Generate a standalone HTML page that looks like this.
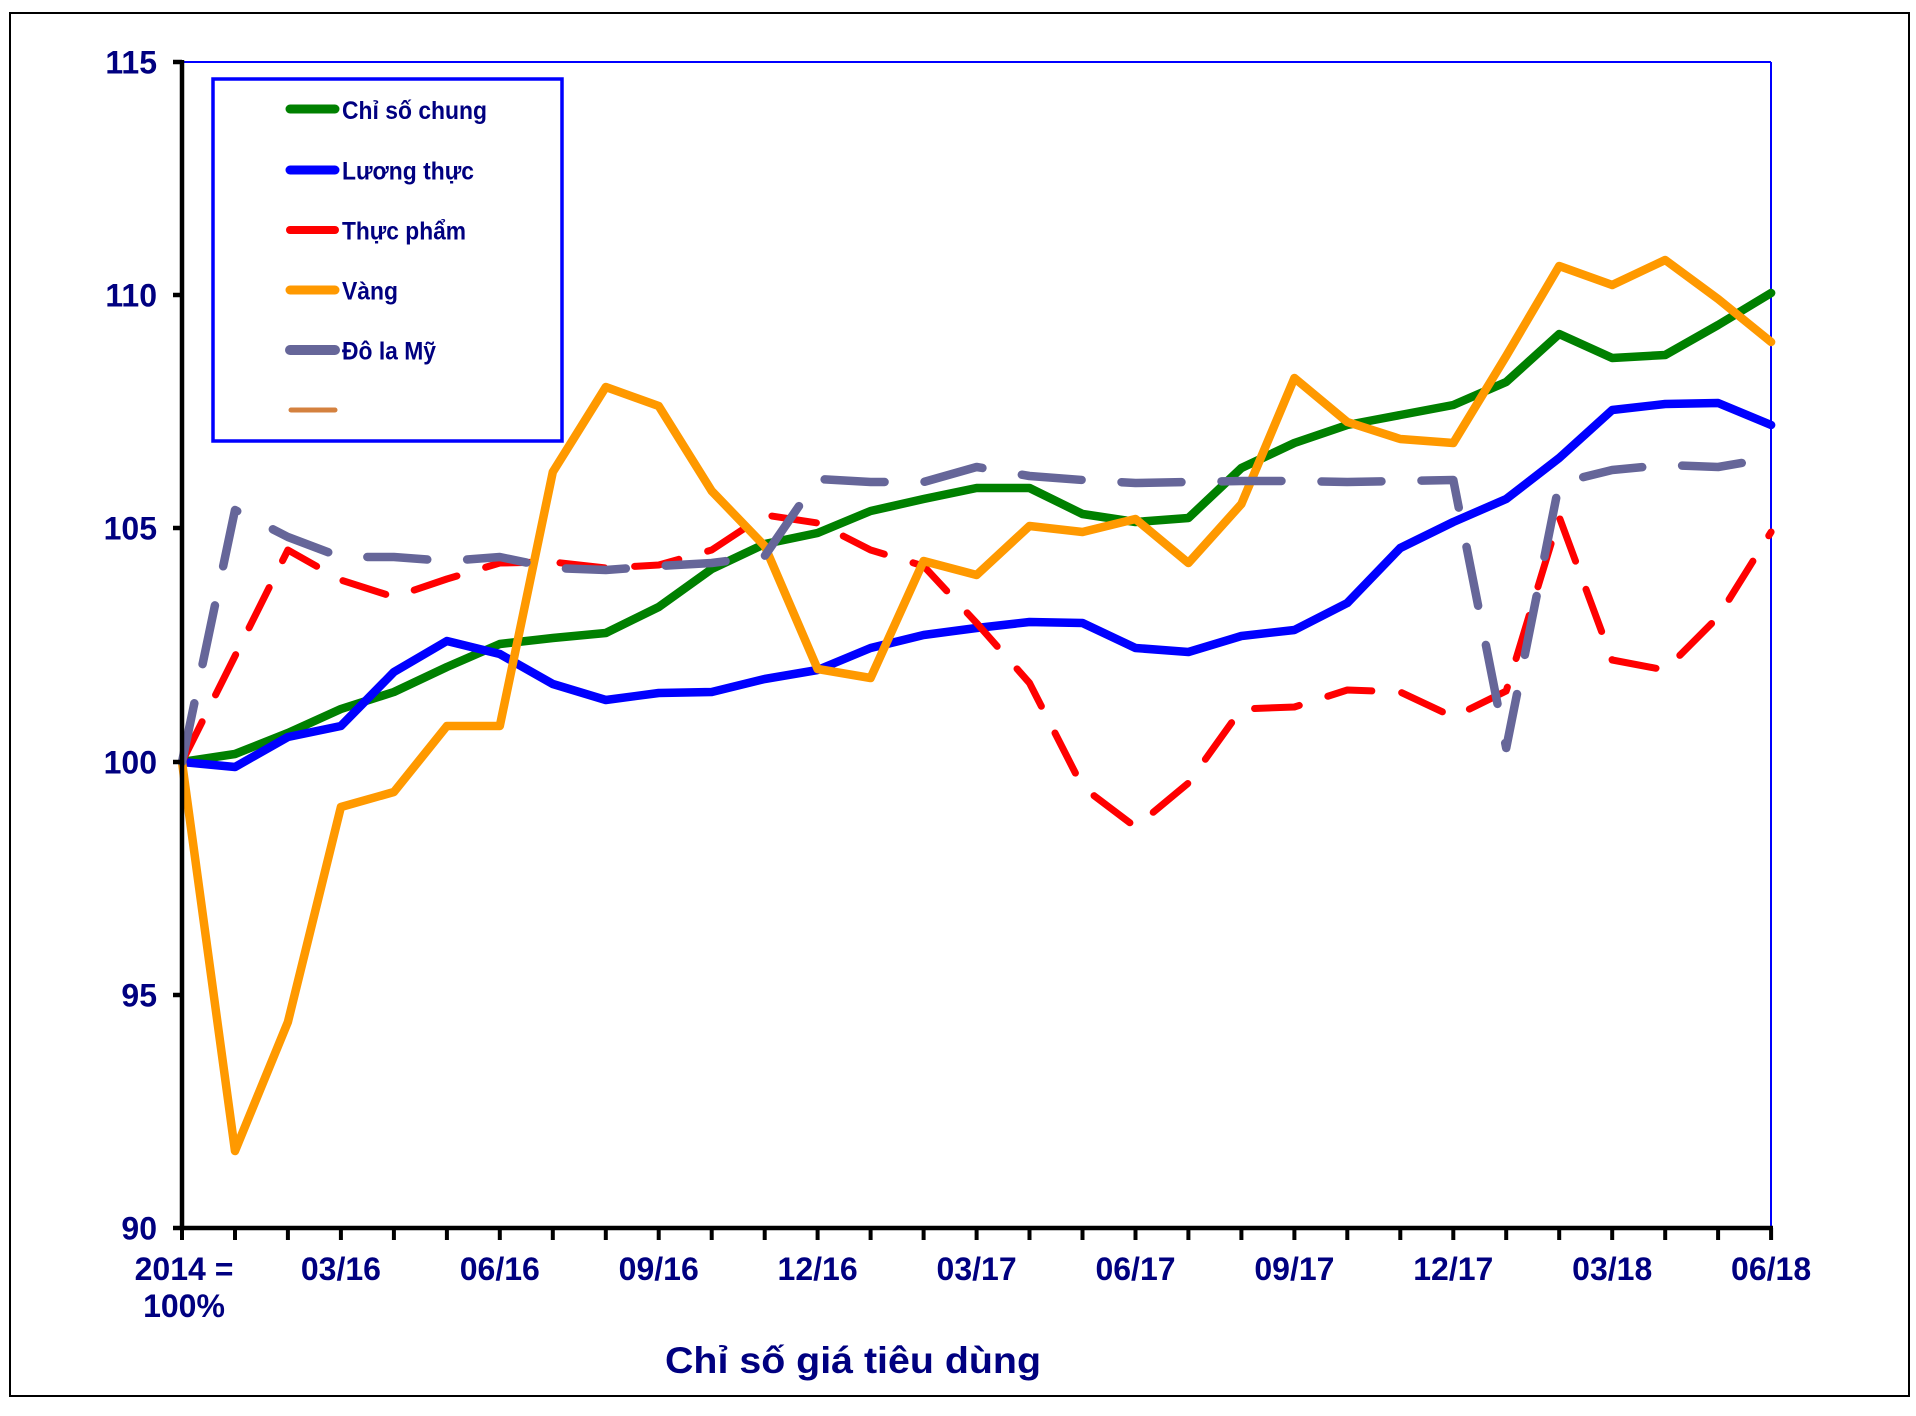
<!DOCTYPE html>
<html>
<head>
<meta charset="utf-8">
<style>
  html,body{margin:0;padding:0;background:#fff;}
  svg{display:block;}
  text{font-family:"Liberation Sans","DejaVu Sans",sans-serif;font-weight:bold;fill:#000080;}
</style>
</head>
<body>
<svg width="1916" height="1416" viewBox="0 0 1916 1416" xmlns="http://www.w3.org/2000/svg">
  <rect x="0" y="0" width="1916" height="1416" fill="#fff"/>
  <!-- outer frame -->
  <rect x="10" y="13" width="1899" height="1383" fill="none" stroke="#000" stroke-width="2"/>

  <!-- plot border (top/right) -->
  <line x1="182" y1="62" x2="1771" y2="62" stroke="#0000FF" stroke-width="2"/>
  <line x1="1771" y1="62" x2="1771" y2="1228" stroke="#0000FF" stroke-width="2"/>

  <!-- series -->
  <g fill="none" stroke-linejoin="round" stroke-linecap="round">
    <polyline stroke="#008000" stroke-width="8.5" points="182,762 235,754 287.9,733 340.9,709 393.9,692 446.9,667 499.8,644 552.8,638 605.8,633 658.7,607 711.7,569 764.7,544 817.6,533 870.6,511 923.6,499 976.6,488 1029.5,488 1082.5,514 1135.5,522 1188.4,518 1241.4,468 1294.4,443 1347.3,425 1400.3,415 1453.3,405 1506.2,382 1559.2,334 1612.2,358 1665.2,355 1718.1,325 1771.1,293"/>
    <polyline stroke="#0000FF" stroke-width="8.5" points="182,762 235,767 287.9,737 340.9,726 393.9,672 446.9,641 499.8,654 552.8,684 605.8,700 658.7,693 711.7,692 764.7,679 817.6,670 870.6,648 923.6,635 976.6,628 1029.5,622 1082.5,623 1135.5,648 1188.4,652 1241.4,636 1294.4,630 1347.3,603 1400.3,548 1453.3,522 1506.2,499 1559.2,458 1612.2,410 1665.2,404 1718.1,403 1771.1,425"/>
    <polyline stroke="#FF0000" stroke-width="7" stroke-dasharray="45 30" points="182,762 235,656 287.9,550 340.9,580 393.9,597 446.9,579 499.8,563 552.8,562 605.8,568 658.7,565 711.7,550 764.7,515 817.6,523 870.6,550 923.6,566 976.6,623 1029.5,683 1082.5,787 1135.5,827 1188.4,783 1241.4,709 1294.4,707 1347.3,690 1400.3,692 1453.3,717 1506.2,691 1559.2,517 1612.2,660 1665.2,670 1718.1,617 1771.1,532"/>
    <polyline stroke="#FF9900" stroke-width="8.5" points="182,762 235,1151 287.9,1022 340.9,807 393.9,792 446.9,726 499.8,726 552.8,472 605.8,387 658.7,406 711.7,491 764.7,546 817.6,669 870.6,678 923.6,561 976.6,575 1029.5,526 1082.5,532 1135.5,519 1188.4,563 1241.4,504 1294.4,378 1347.3,422 1400.3,439 1453.3,443 1506.2,356 1559.2,266 1612.2,285 1665.2,260 1718.1,299 1771.1,342"/>
    <polyline stroke="#666699" stroke-width="8.5" stroke-dasharray="60 40" points="182,762 235,510 287.9,537 340.9,557 393.9,557 446.9,561 499.8,557 552.8,568 605.8,570 658.7,566 711.7,563 764.7,556 817.6,479 870.6,482 923.6,482 976.6,467 1029.5,476 1082.5,480 1135.5,483 1188.4,482 1241.4,481 1294.4,481 1347.3,482 1400.3,481 1453.3,480 1506.2,748 1559.2,483 1612.2,470 1665.2,465 1718.1,467 1771.1,458"/>
  </g>

  <!-- axes -->
  <line x1="182" y1="60" x2="182" y2="1230" stroke="#000" stroke-width="4.5"/>
  <line x1="180" y1="1228" x2="1773" y2="1228" stroke="#000" stroke-width="4.5"/>
  <!-- y ticks -->
  <g stroke="#000" stroke-width="4.5">
    <line x1="173" y1="62" x2="182" y2="62"/>
    <line x1="173" y1="295" x2="182" y2="295"/>
    <line x1="173" y1="528" x2="182" y2="528"/>
    <line x1="173" y1="762" x2="182" y2="762"/>
    <line x1="173" y1="995" x2="182" y2="995"/>
    <line x1="173" y1="1228" x2="182" y2="1228"/>
  </g>
  <!-- x ticks -->
  <g stroke="#000" stroke-width="4">
    <line x1="182" y1="1228" x2="182" y2="1240"/>
    <line x1="235" y1="1228" x2="235" y2="1240"/>
    <line x1="287.9" y1="1228" x2="287.9" y2="1240"/>
    <line x1="340.9" y1="1228" x2="340.9" y2="1240"/>
    <line x1="393.9" y1="1228" x2="393.9" y2="1240"/>
    <line x1="446.9" y1="1228" x2="446.9" y2="1240"/>
    <line x1="499.8" y1="1228" x2="499.8" y2="1240"/>
    <line x1="552.8" y1="1228" x2="552.8" y2="1240"/>
    <line x1="605.8" y1="1228" x2="605.8" y2="1240"/>
    <line x1="658.7" y1="1228" x2="658.7" y2="1240"/>
    <line x1="711.7" y1="1228" x2="711.7" y2="1240"/>
    <line x1="764.7" y1="1228" x2="764.7" y2="1240"/>
    <line x1="817.6" y1="1228" x2="817.6" y2="1240"/>
    <line x1="870.6" y1="1228" x2="870.6" y2="1240"/>
    <line x1="923.6" y1="1228" x2="923.6" y2="1240"/>
    <line x1="976.6" y1="1228" x2="976.6" y2="1240"/>
    <line x1="1029.5" y1="1228" x2="1029.5" y2="1240"/>
    <line x1="1082.5" y1="1228" x2="1082.5" y2="1240"/>
    <line x1="1135.5" y1="1228" x2="1135.5" y2="1240"/>
    <line x1="1188.4" y1="1228" x2="1188.4" y2="1240"/>
    <line x1="1241.4" y1="1228" x2="1241.4" y2="1240"/>
    <line x1="1294.4" y1="1228" x2="1294.4" y2="1240"/>
    <line x1="1347.3" y1="1228" x2="1347.3" y2="1240"/>
    <line x1="1400.3" y1="1228" x2="1400.3" y2="1240"/>
    <line x1="1453.3" y1="1228" x2="1453.3" y2="1240"/>
    <line x1="1506.2" y1="1228" x2="1506.2" y2="1240"/>
    <line x1="1559.2" y1="1228" x2="1559.2" y2="1240"/>
    <line x1="1612.2" y1="1228" x2="1612.2" y2="1240"/>
    <line x1="1665.2" y1="1228" x2="1665.2" y2="1240"/>
    <line x1="1718.1" y1="1228" x2="1718.1" y2="1240"/>
    <line x1="1771.1" y1="1228" x2="1771.1" y2="1240"/>
  </g>

  <!-- y labels -->
  <g font-size="32" text-anchor="end">
    <text x="157" y="73.5">115</text>
    <text x="157" y="306.5">110</text>
    <text x="157" y="539.5">105</text>
    <text x="157" y="773.5">100</text>
    <text x="157" y="1006.5">95</text>
    <text x="157" y="1239.5">90</text>
  </g>

  <!-- x labels -->
  <g font-size="32" text-anchor="middle">
    <text x="184" y="1280">2014 =</text>
    <text x="184" y="1317">100%</text>
    <text x="340.9" y="1280">03/16</text>
    <text x="499.8" y="1280">06/16</text>
    <text x="658.7" y="1280">09/16</text>
    <text x="817.6" y="1280">12/16</text>
    <text x="976.6" y="1280">03/17</text>
    <text x="1135.5" y="1280">06/17</text>
    <text x="1294.4" y="1280">09/17</text>
    <text x="1453.3" y="1280">12/17</text>
    <text x="1612.2" y="1280">03/18</text>
    <text x="1771.1" y="1280">06/18</text>
  </g>

  <!-- title -->
  <text x="665" y="1373" font-size="37" textLength="376" lengthAdjust="spacingAndGlyphs">Chỉ số giá tiêu dùng</text>

  <!-- legend -->
  <rect x="213" y="79" width="349" height="362" fill="#fff" stroke="#0000FF" stroke-width="3.5"/>
  <g stroke-linecap="round" fill="none">
    <line x1="290" y1="109" x2="335" y2="109" stroke="#008000" stroke-width="9"/>
    <line x1="290" y1="170" x2="335" y2="170" stroke="#0000FF" stroke-width="9"/>
    <line x1="290" y1="230" x2="335" y2="230" stroke="#FF0000" stroke-width="8"/>
    <line x1="290" y1="290" x2="335" y2="290" stroke="#FF9900" stroke-width="9"/>
    <line x1="290" y1="350" x2="335" y2="350" stroke="#666699" stroke-width="10"/>
    <line x1="291" y1="410" x2="335" y2="410" stroke="#D4813F" stroke-width="5"/>
  </g>
  <g font-size="25">
    <text x="342" y="119" textLength="145" lengthAdjust="spacingAndGlyphs">Chỉ số chung</text>
    <text x="342" y="179.5" textLength="132" lengthAdjust="spacingAndGlyphs">Lương thực</text>
    <text x="342" y="239.5" textLength="124" lengthAdjust="spacingAndGlyphs">Thực phẩm</text>
    <text x="342" y="299.5" textLength="56" lengthAdjust="spacingAndGlyphs">Vàng</text>
    <text x="342" y="359.5" textLength="94" lengthAdjust="spacingAndGlyphs">Đô la Mỹ</text>
  </g>
</svg>
</body>
</html>
